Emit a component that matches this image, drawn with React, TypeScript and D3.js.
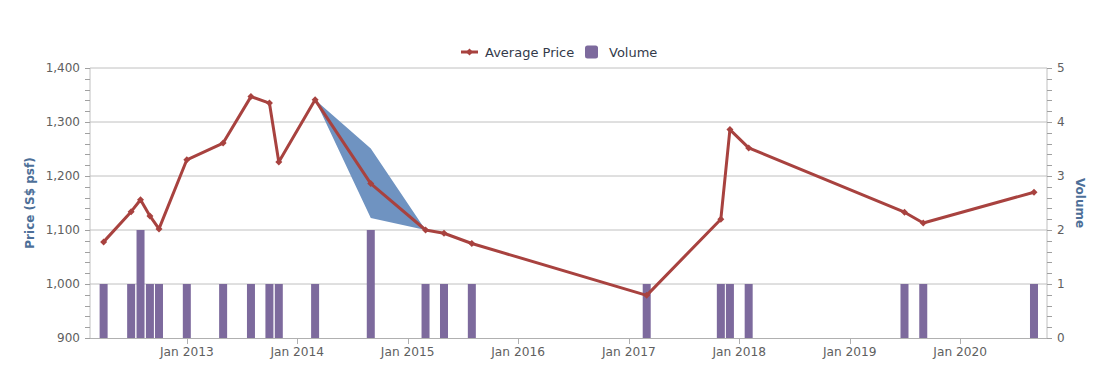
import React from "react";
import * as d3 from "d3";

const dates = ["2012-04-01","2012-07-01","2012-08-01","2012-09-01","2012-10-01","2013-01-01","2013-05-01","2013-08-01","2013-10-01","2013-11-01","2014-03-01","2014-09-01","2015-03-01","2015-05-01","2015-08-01","2017-03-01","2017-11-01","2017-12-01","2018-02-01","2019-07-01","2019-09-01","2020-09-01"];
const avgPrice = [1078,1134,1156,1126,1102,1230,1261,1347,1335,1226,1341,1186,1100,1094,1075,979,1120,1286,1252,1133,1113,1170];
const lowPrice = [1078,1134,1156,1126,1102,1230,1261,1347,1335,1226,1341,1122,1100,1094,1075,979,1120,1286,1252,1133,1113,1170];
const highPrice = [1078,1134,1156,1126,1102,1230,1261,1347,1335,1226,1341,1251,1100,1094,1075,979,1120,1286,1252,1133,1113,1170];
const volume = [1,1,2,1,1,1,1,1,1,1,1,2,1,1,1,1,1,1,1,1,1,1];
const priceTicks = [900,1000,1100,1200,1300,1400];
const volumeTicks = [0,1,2,3,4,5];
const yearTicks = ["2013","2014","2015","2016","2017","2018","2019","2020"];

const W = 1105, H = 376;
const L = 90, R = 1047, T = 68, B = 338;
const FONT = "'DejaVu Sans', Verdana, sans-serif";

export default function App() {
  const parse = d3.utcParse("%Y-%m-%d");
  const pts = dates.map((d, i) => ({ t: parse(d)!, avg: avgPrice[i], lo: lowPrice[i], hi: highPrice[i], v: volume[i] }));
  const x = d3.scaleUtc().domain([parse("2012-02-16")!, parse("2020-10-14")!]).range([L, R]);
  const y = d3.scaleLinear().domain([900, 1400]).range([B, T]);
  const yv = d3.scaleLinear().domain([0, 5]).range([B, T]);

  const area = d3.area<any>().x(p => x(p.t)).y0(p => y(p.lo)).y1(p => y(p.hi));
  const line = d3.line<any>().x(p => x(p.t)).y(p => y(p.avg));
  const minorP = d3.range(900, 1400.1, 20);
  const minorV = d3.range(0, 5.01, 0.2);
  const barW = 8;
  const lineColor = "#a8423f";
  const barColor = "#7d6a9d";
  const areaColor = "#6f93c1";
  const titleColor = "#4d6f98";

  const diamond = (cx: number, cy: number, r: number) =>
    `M${cx},${cy - r}L${cx + r},${cy}L${cx},${cy + r}L${cx - r},${cy}Z`;

  return (
    <svg width={W} height={H} style={{ position: "absolute", left: 0, top: 0, fontFamily: FONT, background: "#fff" }}>
      <rect x={0} y={0} width={W} height={H} fill="#fff" />
      {priceTicks.filter(v => v > 900).map(v => (
        <line key={"g" + v} x1={L} x2={R} y1={y(v)} y2={y(v)} stroke="#c0c0c0" strokeWidth={1} />
      ))}
      {pts.map((p, i) => (
        <rect key={"b" + i} x={x(p.t) - barW / 2} y={yv(p.v)} width={barW} height={B - yv(p.v)} fill={barColor} />
      ))}
      <path d={area(pts) || ""} fill={areaColor} stroke="none" />
      <path d={line(pts) || ""} fill="none" stroke={lineColor} strokeWidth={3} strokeLinejoin="round" />
      {pts.map((p, i) => (
        <path key={"m" + i} d={diamond(x(p.t), y(p.avg), 3.5)} fill={lineColor} />
      ))}
      <line x1={L} x2={L} y1={T} y2={B} stroke="#c0c0c0" />
      <line x1={R} x2={R} y1={T} y2={B} stroke="#c0c0c0" />
      <line x1={L} x2={R} y1={B + 0.5} y2={B + 0.5} stroke="#b0b0b0" />
      {minorP.map(v => (
        <line key={"mp" + v} x1={L - 5} x2={L} y1={Math.round(y(v)) + 0.5} y2={Math.round(y(v)) + 0.5} stroke="#a0a0a0" />
      ))}
      {minorV.map(v => (
        <line key={"mv" + v} x1={R} x2={R + 5} y1={Math.round(yv(v)) + 0.5} y2={Math.round(yv(v)) + 0.5} stroke="#a0a0a0" />
      ))}
      {priceTicks.map(v => (
        <text key={"pl" + v} x={80} y={y(v) + 4} textAnchor="end" fontSize={12} fill="#606060">{d3.format(",")(v)}</text>
      ))}
      {volumeTicks.map(v => (
        <text key={"vl" + v} x={1057} y={yv(v) + 4} textAnchor="start" fontSize={12} fill="#606060">{v}</text>
      ))}
      {yearTicks.map(yr => {
        const xv = x(parse(yr + "-01-01")!);
        return (
          <g key={"x" + yr}>
            <line x1={Math.round(xv) + 0.5} x2={Math.round(xv) + 0.5} y1={B} y2={B + 6} stroke="#b0b0b0" />
            <text x={xv} y={356} textAnchor="middle" fontSize={12.2} fill="#606060">{"Jan " + yr}</text>
          </g>
        );
      })}
      <text transform={`translate(34,${(T + B) / 2}) rotate(-90)`} textAnchor="middle" fontSize={12} fontWeight="bold" fill={titleColor}>Price (S$ psf)</text>
      <text transform={`translate(1076,${(T + B) / 2}) rotate(90)`} textAnchor="middle" fontSize={12} fontWeight="bold" fill={titleColor}>Volume</text>
      <line x1={461} x2={478} y1={52} y2={52} stroke={lineColor} strokeWidth={3} />
      <path d={diamond(469.5, 52, 3.5)} fill={lineColor} />
      <text x={485} y={56.5} fontSize={13} fill="#333a4a">Average Price</text>
      <rect x={585} y={45.5} width={13} height={13} rx={2.5} fill={barColor} />
      <text x={609} y={56.5} fontSize={13} fill="#333a4a">Volume</text>
    </svg>
  );
}
